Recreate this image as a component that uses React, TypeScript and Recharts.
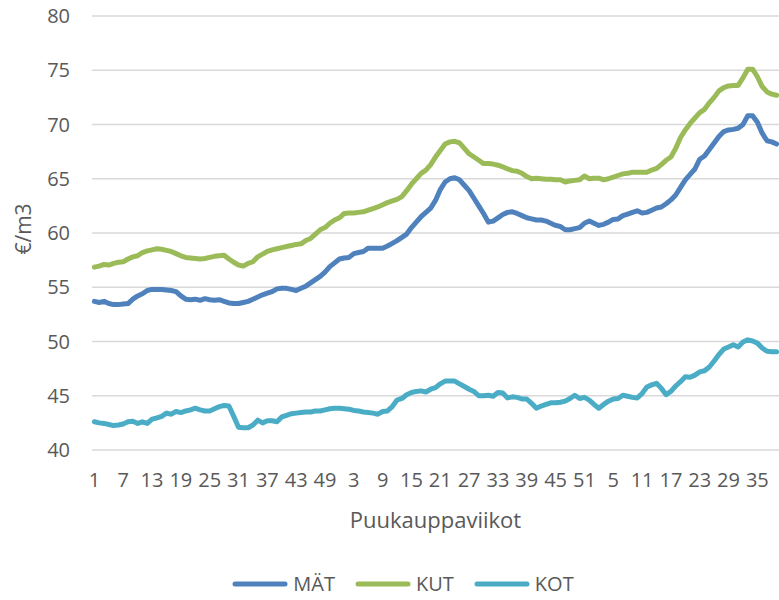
import React from 'react';
import { LineChart, Line, XAxis, YAxis, CartesianGrid, Legend } from 'recharts';

const weeks = [
  1, 2, 3, 4, 5, 6, 7, 8, 9, 10, 11, 12, 13, 14, 15, 16, 17, 18, 19, 20, 21, 22, 23, 24, 25, 26,
  27, 28, 29, 30, 31, 32, 33, 34, 35, 36, 37, 38, 39, 40, 41, 42, 43, 44, 45, 46, 47, 48, 49, 50, 51, 52,
  1, 2, 3, 4, 5, 6, 7, 8, 9, 10, 11, 12, 13, 14, 15, 16, 17, 18, 19, 20, 21, 22, 23, 24, 25, 26,
  27, 28, 29, 30, 31, 32, 33, 34, 35, 36, 37, 38, 39, 40, 41, 42, 43, 44, 45, 46, 47, 48, 49, 50, 51, 52,
  1, 2, 3, 4, 5, 6, 7, 8, 9, 10, 11, 12, 13, 14, 15, 16, 17, 18, 19, 20, 21, 22, 23, 24, 25, 26,
  27, 28, 29, 30, 31, 32, 33, 34, 35, 36, 37, 38, 39,
];

const matValues = [
  53.7, 53.6, 53.7, 53.5, 53.4, 53.4, 53.45, 53.5, 53.9, 54.2,
  54.4, 54.7, 54.8, 54.8, 54.8, 54.75, 54.7, 54.6, 54.2, 53.9,
  53.85, 53.9, 53.8, 53.95, 53.85, 53.8, 53.85, 53.7, 53.55, 53.5,
  53.5, 53.6, 53.7, 53.9, 54.1, 54.3, 54.45, 54.6, 54.85, 54.9,
  54.9, 54.8, 54.7, 54.9, 55.1, 55.4, 55.7, 56.0, 56.4, 56.9,
  57.25, 57.6, 57.7, 57.75, 58.1, 58.2, 58.3, 58.6, 58.6, 58.6,
  58.6, 58.8, 59.05, 59.3, 59.6, 59.9, 60.5, 61.0, 61.5, 61.9,
  62.3, 63.0, 64.0, 64.7, 65.0, 65.1, 64.9, 64.4, 63.9, 63.2,
  62.5, 61.8, 61.0, 61.1, 61.4, 61.7, 61.9, 61.95, 61.8, 61.6,
  61.4, 61.3, 61.2, 61.2, 61.1, 60.9, 60.7, 60.6, 60.3, 60.3,
  60.4, 60.5, 60.9, 61.1, 60.9, 60.7, 60.8, 61.0, 61.25, 61.3,
  61.6, 61.75, 61.9, 62.05, 61.85, 61.9, 62.1, 62.3, 62.4, 62.7,
  63.05, 63.5, 64.2, 64.9, 65.4, 65.9, 66.8, 67.1, 67.7, 68.3,
  68.9, 69.35, 69.5, 69.55, 69.65, 70.0, 70.8, 70.8, 70.2, 69.2,
  68.5, 68.4, 68.2,
];

const kutValues = [
  56.85, 56.95, 57.1, 57.05, 57.2, 57.3, 57.35, 57.6, 57.8, 57.9,
  58.2, 58.35, 58.45, 58.55, 58.5, 58.4, 58.3, 58.1, 57.9, 57.75,
  57.7, 57.65, 57.6, 57.65, 57.75, 57.85, 57.9, 57.95, 57.6, 57.3,
  57.05, 56.95, 57.2, 57.35, 57.8, 58.05, 58.3, 58.45, 58.55, 58.65,
  58.75, 58.85, 58.95, 59.0, 59.3, 59.5, 59.9, 60.3, 60.5, 60.9,
  61.2, 61.4, 61.8, 61.85, 61.85, 61.9, 61.95, 62.1, 62.25, 62.4,
  62.6, 62.8, 62.95, 63.1, 63.35, 63.9, 64.5, 65.0, 65.5, 65.8,
  66.3, 67.0, 67.6, 68.2, 68.4, 68.45, 68.3, 67.8, 67.3, 67.0,
  66.7, 66.4, 66.4, 66.35, 66.25, 66.1, 65.9, 65.75, 65.7, 65.5,
  65.2, 65.0, 65.05, 65.0, 64.95, 64.95, 64.9, 64.9, 64.7, 64.8,
  64.85, 64.9, 65.25, 65.0, 65.05, 65.05, 64.9, 65.0, 65.15, 65.3,
  65.45, 65.5, 65.6, 65.6, 65.6, 65.6, 65.8, 65.95, 66.3, 66.7,
  67.0, 67.8, 68.8, 69.5, 70.1, 70.6, 71.1, 71.4, 72.0, 72.5,
  73.1, 73.4, 73.55, 73.6, 73.6, 74.3, 75.1, 75.1, 74.4, 73.5,
  73.0, 72.8, 72.7,
];

const kotValues = [
  42.6, 42.5, 42.45, 42.35, 42.25, 42.3, 42.4, 42.6, 42.65, 42.45,
  42.6, 42.45, 42.85, 42.95, 43.1, 43.4, 43.3, 43.55, 43.45, 43.6,
  43.7, 43.85, 43.7, 43.6, 43.6, 43.8, 44.0, 44.1, 44.05, 43.1,
  42.1, 42.05, 42.05, 42.3, 42.75, 42.5, 42.7, 42.7, 42.6, 43.05,
  43.2, 43.35, 43.4, 43.45, 43.5, 43.5, 43.6, 43.6, 43.7, 43.8,
  43.85, 43.85, 43.8, 43.75, 43.65, 43.6, 43.5, 43.45, 43.4, 43.3,
  43.55, 43.6, 44.0, 44.6, 44.75, 45.1, 45.3, 45.4, 45.45, 45.35,
  45.6, 45.75, 46.1, 46.35, 46.35, 46.35, 46.1, 45.85, 45.6, 45.4,
  45.0, 45.0, 45.05, 44.95, 45.3, 45.25, 44.8, 44.9, 44.85, 44.7,
  44.7, 44.3, 43.85, 44.05, 44.2, 44.35, 44.35, 44.4, 44.5, 44.75,
  45.05, 44.75, 44.85, 44.6, 44.2, 43.85, 44.2, 44.5, 44.7, 44.75,
  45.05, 44.95, 44.85, 44.8, 45.2, 45.8, 46.0, 46.15, 45.7, 45.1,
  45.4, 45.9, 46.3, 46.75, 46.7, 46.9, 47.2, 47.3, 47.65, 48.2,
  48.8, 49.3, 49.5, 49.7, 49.5, 49.95, 50.15, 50.05, 49.85, 49.4,
  49.1, 49.05, 49.05,
];

const xTickIndices = [0, 6, 12, 18, 24, 30, 36, 42, 48, 54, 60, 66, 72, 78, 84, 90, 96, 102, 108, 114, 120, 126, 132, 138];
const yTicks = [40, 45, 50, 55, 60, 65, 70, 75, 80];
const seriesNames = ['MÄT', 'KUT', 'KOT'];
const seriesColors = ['#4f81bd', '#9bbb59', '#4bacc6'];
const yTitle = '€/m3';
const xTitle = 'Puukauppaviikot';

const data = weeks.map((w, i) => ({
  i,
  week: w,
  [seriesNames[0]]: matValues[i],
  [seriesNames[1]]: kutValues[i],
  [seriesNames[2]]: kotValues[i],
}));

const FONT = '"Open Sans", sans-serif';
const TEXT = '#595959';

const YTitle = (props: any) => {
  const vb = props.viewBox || { x: 0, y: 16, width: 92, height: 434 };
  const cx = vb.x + 23;
  const cy = vb.y + vb.height / 2 - 4;
  return (
    <text
      x={cx}
      y={cy}
      transform={`rotate(-90 ${cx} ${cy})`}
      textAnchor="middle"
      dominantBaseline="central"
      fontFamily={FONT}
      fontSize={21}
      fill={TEXT}
    >
      {yTitle}
    </text>
  );
};

const XTitle = (props: any) => {
  const vb = props.viewBox || { x: 92, y: 450, width: 687, height: 120 };
  return (
    <text
      x={vb.x + vb.width / 2}
      y={vb.y + 78}
      textAnchor="middle"
      fontFamily={FONT}
      fontSize={22}
      fill={TEXT}
    >
      {xTitle}
    </text>
  );
};

const renderLegend = () => (
  <div
    style={{
      display: 'flex',
      justifyContent: 'center',
      alignItems: 'center',
      boxSizing: 'border-box',
      height: 30,
      paddingTop: 0,
      paddingBottom: 2,
      paddingLeft: 27,
      fontFamily: FONT,
      fontSize: 20,
      color: TEXT,
    }}
  >
    {seriesNames.map((n, k) => (
      <div key={n} style={{ display: 'flex', alignItems: 'center', marginRight: k < 2 ? 20 : 0 }}>
        <svg width={56} height={8} style={{ display: 'block' }}>
          <line x1={3} y1={4} x2={53} y2={4} stroke={seriesColors[k]} strokeWidth={5} strokeLinecap="round" />
        </svg>
        <span style={{ marginLeft: 5, lineHeight: '26px' }}>{n}</span>
      </div>
    ))}
  </div>
);

export default function App() {
  return (
    <div style={{ position: 'absolute', left: 0, top: 0, width: 779, height: 600, background: '#fff' }}>
      <LineChart width={779} height={600} data={data} margin={{ top: 16, right: 0, bottom: 0, left: 0 }}>
        <CartesianGrid vertical={false} stroke="#d9d9d9" strokeWidth={1.5} />
        <XAxis
          dataKey="i"
          type="number"
          domain={[-0.5, 142.5]}
          ticks={xTickIndices}
          tickFormatter={(v: number) => String(weeks[v])}
          interval={0}
          axisLine={false}
          tickLine={false}
          tickMargin={17}
          height={120}
          tick={{ fontSize: 20, fill: TEXT, fontFamily: FONT }}
          label={{ content: XTitle }}
        />
        <YAxis
          type="number"
          domain={[40, 80]}
          ticks={yTicks}
          interval={0}
          axisLine={false}
          tickLine={false}
          tickMargin={16}
          width={92}
          tick={{ fontSize: 20, fill: TEXT, fontFamily: FONT }}
          label={{ content: YTitle }}
        />
        <Legend verticalAlign="bottom" content={renderLegend} wrapperStyle={{ left: 0, width: 779, bottom: 0 }} />
        {seriesNames.map((n, k) => (
          <Line
            key={n}
            type="linear"
            dataKey={n}
            stroke={seriesColors[k]}
            strokeWidth={5}
            strokeLinejoin="round"
            strokeLinecap="round"
            dot={false}
            activeDot={false}
            isAnimationActive={false}
          />
        ))}
      </LineChart>
    </div>
  );
}
